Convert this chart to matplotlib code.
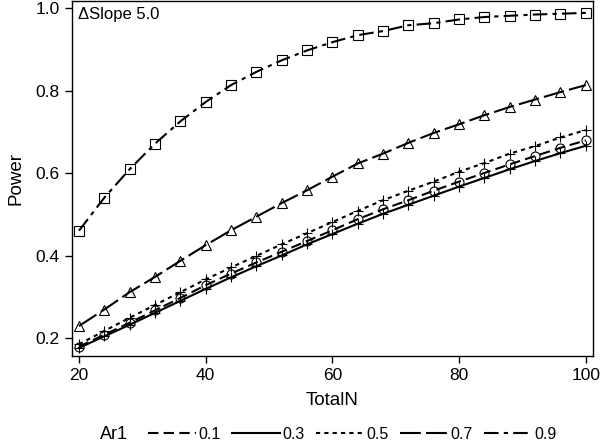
import matplotlib.pyplot as plt
from matplotlib.lines import Line2D

plt.rcParams['font.family'] = ['Liberation Sans', 'DejaVu Sans']

# Data
total_n = [20, 24, 28, 32, 36, 40, 44, 48, 52, 56, 60, 64, 68, 72, 76, 80, 84, 88, 92, 96, 100]
ar1_labels = ['0.1', '0.3', '0.5', '0.7', '0.9']

power_01 = [0.180, 0.209, 0.238, 0.268, 0.298, 0.329, 0.357, 0.384, 0.410, 0.436, 0.462,
            0.489, 0.513, 0.535, 0.558, 0.580, 0.601, 0.622, 0.642, 0.662, 0.680]
power_03 = [0.177, 0.205, 0.233, 0.262, 0.291, 0.320, 0.348, 0.375, 0.401, 0.428, 0.453,
            0.478, 0.502, 0.524, 0.546, 0.568, 0.589, 0.610, 0.630, 0.649, 0.667]
power_05 = [0.186, 0.218, 0.250, 0.281, 0.312, 0.343, 0.372, 0.400, 0.428, 0.455, 0.482,
            0.509, 0.535, 0.558, 0.580, 0.604, 0.625, 0.648, 0.666, 0.687, 0.705]
power_07 = [0.230, 0.270, 0.312, 0.349, 0.388, 0.426, 0.462, 0.495, 0.528, 0.559, 0.592,
            0.624, 0.648, 0.674, 0.698, 0.719, 0.741, 0.761, 0.779, 0.797, 0.814]
power_09 = [0.461, 0.541, 0.610, 0.672, 0.726, 0.773, 0.814, 0.846, 0.874, 0.898, 0.918,
            0.935, 0.945, 0.959, 0.964, 0.973, 0.979, 0.982, 0.985, 0.987, 0.989]

series = [power_01, power_03, power_05, power_07, power_09]
dashes = [(5, 2.5), (), (2, 2), (10, 2.5), (7, 2.5, 2, 2.5)]
markers = ['o', '+', '+', '^', 's']

fig = plt.figure(figsize=(6, 4.43), dpi=100)
ax = fig.add_axes([0.12, 0.197, 0.868, 0.8])

handles = []
for vals, lab, ds, mk in zip(series, ar1_labels, dashes, markers):
    ls = (0, ds) if ds else '-'
    ax.plot(total_n, vals, color='black', linestyle=ls, linewidth=1.5,
            marker=mk, markersize=6.5, markerfacecolor='none', markeredgewidth=0.8)
    handles.append(Line2D([], [], color='black', linestyle=ls, linewidth=1.5, label=lab))

ax.set_xlim(18.9, 101.1)
ax.set_ylim(0.158, 1.017)
ax.set_xticks([20, 40, 60, 80, 100])
ax.set_yticks([0.2, 0.4, 0.6, 0.8, 1.0])
ax.set_yticklabels(['0.2', '0.4', '0.6', '0.8', '1.0'])
ax.tick_params(direction='out', length=5, width=1, labelsize=12.5, pad=4)
ax.set_xlabel('TotalN', fontsize=13.5, labelpad=6)
ax.set_ylabel('Power', fontsize=13.5, labelpad=8)
for sp in ax.spines.values():
    sp.set_linewidth(1)

ax.text(0.012, 0.985, '\u0394Slope 5.0', transform=ax.transAxes, fontsize=12,
        ha='left', va='top')

fig.text(0.167, 0.02, 'Ar1', fontsize=13, ha='left', va='center')
fig.legend(handles=handles, loc='center left', bbox_to_anchor=(0.247, 0.02), ncol=5,
           frameon=False, fontsize=11.5, handlelength=3.0, handletextpad=0.12,
           columnspacing=0.75, borderpad=0, borderaxespad=0)

fig.savefig('out.png', dpi=100)
